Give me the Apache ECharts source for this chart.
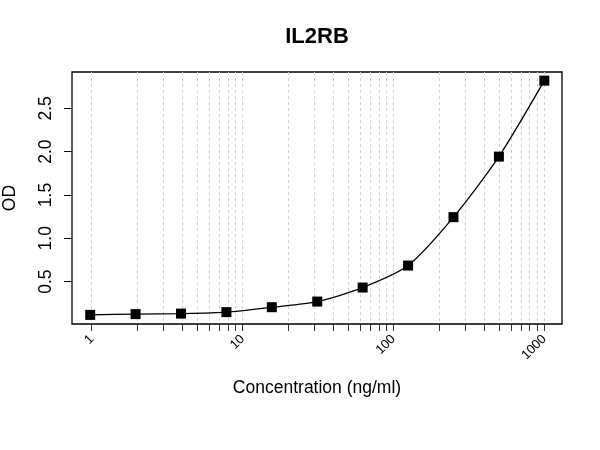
<!DOCTYPE html>
<html>
<head>
<meta charset="utf-8">
<script src="https://cdn.jsdelivr.net/npm/echarts@6/dist/echarts.min.js"></script>
<style>
  html, body { margin: 0; padding: 0; background: #fff; }
  #chart { width: 600px; height: 450px; }
</style>
</head>
<body>
<div id="chart"></div>
<script>
// 浓度 (ng/ml) 与 OD
const conc = [0.977, 1.953, 3.906, 7.813, 15.625, 31.25, 62.5, 125, 250, 500, 1000]
const od = [0.115, 0.124, 0.13, 0.147, 0.204, 0.269, 0.431, 0.685, 1.244, 1.943, 2.82]

// 刻度
const xTicks = [1, 2, 3, 4, 5, 6, 7, 8, 9, 10, 20, 30, 40, 50, 60, 70, 80, 90,
  100, 200, 300, 400, 500, 600, 700, 800, 900, 1000]
const xLabels = [1, 10, 100, 1000]
const yTicks = [0.5, 1, 1.5, 2, 2.5]

const font = 'Liberation Sans, Arial, sans-serif'

const chart = echarts.init(document.getElementById('chart'))
chart.setOption({
  animation: false,
  backgroundColor: '#fff',
  title: {
    text: 'IL2RB',
    left: 317,
    top: 26,
    textAlign: 'center',
    padding: 0,
    textStyle: { fontFamily: font, fontSize: 22, fontWeight: 'bold', color: '#000' },
  },
  grid: {
    left: 72, right: 38, top: 72, bottom: 126,
    containLabel: false,
    outerBoundsMode: 'none',
    show: true, borderColor: '#000', borderWidth: 1.3, backgroundColor: 'transparent',
  },
  xAxis: {
    type: 'log',
    logBase: 10,
    min: 0.74,
    max: 1310,
    name: 'Concentration (ng/ml)',
    nameLocation: 'middle',
    nameGap: 55,
    nameTextStyle: { fontFamily: font, fontSize: 17.5, color: '#000' },
    axisLine: { show: false },
    axisTick: {
      show: true, length: 7, customValues: xTicks,
      lineStyle: { color: '#333', width: 1 },
    },
    axisLabel: {
      customValues: xLabels,
      rotate: 45,
      margin: 13,
      fontFamily: font,
      fontSize: 13,
      color: '#000',
      formatter: (v) => String(Math.round(v)),
    },
    splitLine: {
      show: true,
      lineStyle: { color: '#d0d0d0', width: 1, type: [3, 3] },
    },
  },
  yAxis: {
    type: 'value',
    min: 0.01,
    max: 2.92,
    name: 'OD',
    nameLocation: 'middle',
    nameGap: 53,
    nameTextStyle: { fontFamily: font, fontSize: 17.5, color: '#000' },
    axisLine: { show: false },
    axisTick: {
      show: true, length: 8, customValues: yTicks,
      lineStyle: { color: '#000', width: 1 },
    },
    axisLabel: {
      customValues: yTicks,
      rotate: 90,
      margin: 17,
      fontFamily: font,
      fontSize: 17.5,
      color: '#000',
      formatter: (v) => v.toFixed(1),
    },
    splitLine: { show: false },
  },
  series: [
    {
      type: 'line',
      data: conc.map((c, i) => [c, od[i]]),
      smooth: 0.25,
      symbol: 'rect',
      symbolSize: 10,
      itemStyle: { color: '#000' },
      lineStyle: { color: '#000', width: 1.3 },
    },
  ],
})
</script>
</body>
</html>
